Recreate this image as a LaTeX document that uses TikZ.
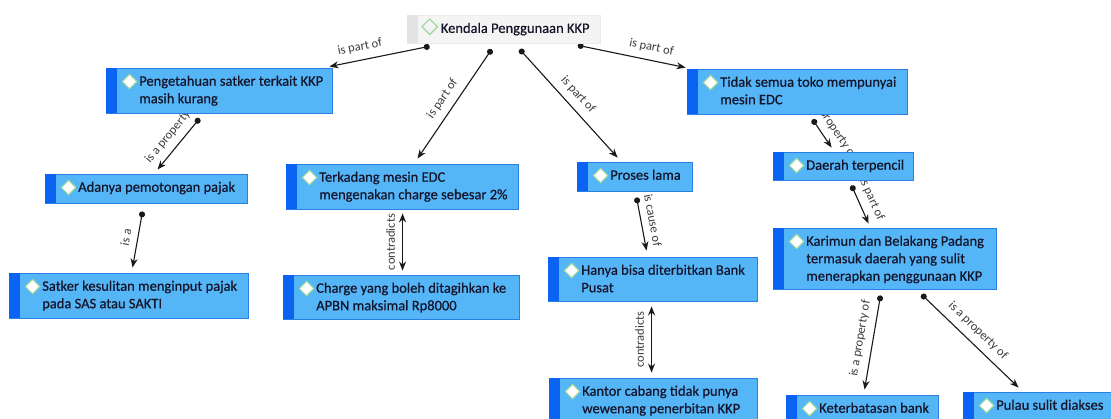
\documentclass[tikz,border=0pt]{standalone}
\usepackage{fontspec}
\setmainfont{Carlito}
\newfontfamily\nodefont{Carlito}[FakeBold=0.5]
\usetikzlibrary{arrows.meta,shapes.geometric,calc}
\definecolor{boxfill}{HTML}{55B6F7}
\definecolor{boxline}{HTML}{2B7FE3}
\definecolor{stripc}{HTML}{0A63F2}
\definecolor{diagreen}{HTML}{9ED89A}
\definecolor{txtc}{HTML}{14142A}
\definecolor{lblc}{HTML}{3C3C3C}
\definecolor{rootfill}{HTML}{F4F4F4}
\definecolor{rootstrip}{HTML}{E3E3E3}
\definecolor{rootline}{HTML}{EAEAEA}
\pgfdeclarelayer{bg}
\pgfsetlayers{bg,main}
\tikzset{
 cbox/.style={draw=boxline, fill=boxfill, line width=0.9pt, inner sep=0pt, rectangle},
 cstrip/.style={fill=stripc},
 cdia/.style={diamond, draw=diagreen, fill=white, line width=1pt, minimum size=15pt, inner sep=0pt},
 ctext/.style={anchor=north west, align=left, inner sep=0pt, text=txtc, font=\nodefont\fontsize{14.5}{17.5}\selectfont},
 link/.style={draw=black!90, line width=1.1pt, {Circle[length=6pt]}-{Stealth[length=9pt,width=7pt]}},
 dlink/.style={draw=black!90, line width=1.1pt, {Stealth[length=9pt,width=7pt]}-{Stealth[length=9pt,width=7pt]}},
 lbl/.style={sloped, above=7pt, inner sep=0pt, text=lblc, font=\fontsize{12.5}{14}\selectfont},
}
\newcommand\mkbox[6]{%
  \node[cbox, minimum width=#4pt, minimum height=#5pt] (#1) at ({#2+#4/2},{#3+#5/2}) {};
  \fill[cstrip] ([shift={(0.45pt,-0.45pt)}]#1.north west) rectangle ([shift={(11pt,0.45pt)}]#1.south west);
  \node[cdia] (#1d) at ([shift={(24pt,-14pt)}]#1.north west) {};
  \node[ctext] (#1t) at ([shift={(33.5pt,-7pt)}]#1.north west) {\rule{0pt}{11pt}#6};
}
\begin{document}
\begin{tikzpicture}[x=1pt,y=-1pt]
\begin{pgfonlayer}{bg}
\fill[white] (0,0) rectangle (1111,419);
\end{pgfonlayer}
\path[use as bounding box] (0,0) rectangle (1111,419);
\clip (0,0) rectangle (1111,419);
% root
\node[rectangle, fill=rootfill, draw=rootline, line width=0.6pt, minimum width=193pt, minimum height=28pt, inner sep=0pt] (root) at (503.5,29) {};
\fill[rootstrip] ([shift={(0.3pt,-0.3pt)}]root.north west) rectangle ([shift={(11pt,0.3pt)}]root.south west);
\node[cdia, fill=rootfill, line width=1.2pt, minimum size=16pt] (rootd) at ([shift={(23pt,-12pt)}]root.north west) {};
\node[ctext] (roott) at ([shift={(34pt,-7pt)}]root.north west) {\rule{0pt}{11pt}Kendala Penggunaan KKP};
% boxes
\mkbox{n1}{106}{68}{226}{45}{Pengetahuan satker terkait KKP\\masih kurang}
\mkbox{n2}{45}{174}{202}{29}{Adanya pemotongan pajak}
\mkbox{n3}{9}{273}{239}{45}{Satker kesulitan menginput pajak\\pada SAS atau SAKTI}
\mkbox{n4}{286}{164}{232}{45}{Terkadang mesin EDC\\mengenakan charge sebesar 2\%}
\mkbox{n5}{283}{275}{236}{44}{Charge yang boleh ditagihkan ke\\APBN maksimal Rp8000}
\mkbox{n6}{577}{162}{115}{29}{Proses lama}
\mkbox{n7}{548}{257}{209}{44}{Hanya bisa diterbitkan Bank\\Pusat}
\mkbox{n8}{549}{378}{208}{44}{Kantor cabang tidak punya\\wewenang penerbitan KKP}
\mkbox{n9}{687}{69}{220}{45}{Tidak semua toko mempunyai\\mesin EDC}
\mkbox{n10}{773}{152}{140}{28}{Daerah terpencil}
\mkbox{n11}{773}{228}{223}{61}{Karimun dan Belakang Padang\\termasuk daerah yang sulit\\menerapkan penggunaan KKP}
\mkbox{n12}{786}{395}{152}{30}{Keterbatasan bank}
\mkbox{n13}{963}{392}{152}{30}{Pulau sulit diakses}
% connectors
\begin{pgfonlayer}{bg}
\draw[link] ($(root.south west)+(23,3)$) -- node[lbl,pos=0.67]{is part of} ($(n1.north east)+(-3,-1)$);
\draw[link] ($(root.south west)+(85,6)$) -- node[lbl,pos=0.52]{is part of} ($(n4.north west)+(132,-5)$);
\draw[link] ($(root.south west)+(113,6)$) -- node[lbl,pos=0.5]{is part of} ($(n6.north west)+(41,-4)$);
\draw[link] ($(root.south west)+(171,2)$) -- node[lbl,pos=0.66]{is part of} ($(n9.north west)+(-1,-1)$);
\draw[link] ($(n1.south west)+(94,5)$) -- node[lbl,pos=0.52]{is a property} ($(n2.north west)+(113,-4)$);
\draw[link] ($(n2.south west)+(98,8)$) -- node[lbl,pos=0.5]{is a} ($(n3.north west)+(124,-5)$);
\draw[dlink] ($(n5.north west)+(120,-4)$) -- node[lbl,pos=0.5]{contradicts} ($(n4.south west)+(117,4)$);
\draw[link] ($(n6.south west)+(60,6)$) -- node[lbl,pos=0.47]{is cause of} ($(n7.north west)+(99,-6)$);
\draw[dlink] ($(n8.north west)+(103,-5)$) -- node[lbl,pos=0.5]{contradicts} ($(n7.south west)+(104,5)$);
\draw[link] ($(n9.south west)+(126,5)$) -- node[lbl,pos=0.5]{is a property of} ($(n10.north west)+(59,-4)$);
\draw[link] ($(n10.south west)+(79,5)$) -- node[lbl,pos=0.5]{is part of} ($(n11.north west)+(96,-4)$);
\draw[link] ($(n11.south west)+(108,6)$) -- node[lbl,pos=0.48]{is a property of} ($(n12.north west)+(79,-5)$);
\draw[link] ($(n11.south west)+(149,5)$) -- node[lbl,pos=0.49]{is a property of} ($(n13.north west)+(56,-4)$);
\end{pgfonlayer}
\end{tikzpicture}
\end{document}
